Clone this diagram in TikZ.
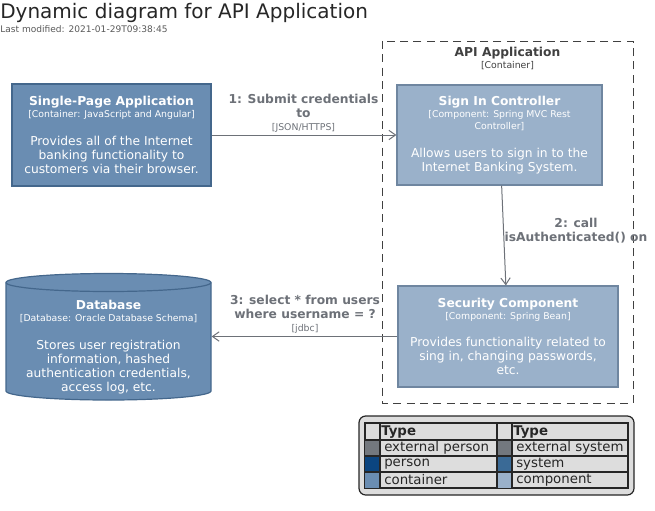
\documentclass[tikz,border=0pt]{standalone}
\usepackage{fontspec}
\setmainfont{DejaVu Sans}
\usetikzlibrary{arrows.meta, positioning}
\definecolor{containerfill}{HTML}{6A8DB2}
\definecolor{containerline}{HTML}{44678C}
\definecolor{componentfill}{HTML}{9AB1CA}
\definecolor{componentline}{HTML}{6F86A0}
\definecolor{extgray}{HTML}{73787E}
\definecolor{personblue}{HTML}{0B4580}
\definecolor{systemblue}{HTML}{3A6A96}
\definecolor{relgray}{HTML}{6D7178}
\definecolor{legendbg}{HTML}{DDDDDD}
\newcommand{\techtxt}[1]{{\fontsize{7}{8.6}\selectfont\mdseries #1}}

\begin{document}
\begin{tikzpicture}[x=0.75pt, y=-0.75pt,
    box/.style={draw, line width=0.9pt, align=center, text=white, inner sep=0pt,
        font=\fontsize{9.2}{10.5}\selectfont},
    container/.style={box, fill=containerfill, draw=containerline},
    component/.style={box, fill=componentfill, draw=componentline},
    rel/.style={draw=relgray, line width=0.75pt, -{Straight Barb[length=5pt, width=7pt]}},
    rellabel/.style={text=relgray, align=center, inner sep=0pt,
        font=\fontsize{9.2}{10.5}\selectfont\bfseries},
    legendtxt/.style={anchor=west, inner sep=0pt, text=black!85,
        font=\fontsize{10}{12}\selectfont}]
\useasboundingbox (0,0) rectangle (655,510);

% title
\node[anchor=west, inner sep=0pt, text=black!85, font=\fontsize{15}{18}\selectfont] (title) at (0,13) {Dynamic diagram for API Application};
\node[anchor=west, inner sep=0pt, text=black!65, font=\fontsize{6.8}{8}\selectfont] (modified) at (0,29) {Last modified: 2021-01-29T09:38:45};

% API Application boundary
\draw[black!75, dashed, dash pattern=on 6pt off 4pt, line width=0.7pt] (382,41) rectangle (633,403);
\node[align=center, inner sep=0pt, text=black!75, font=\fontsize{9.2}{10.5}\selectfont\bfseries] (api) at (507.5,58) {API Application\\[-1.5pt] \techtxt{[Container]}};

% containers and components
\node[container, minimum width=149.25pt, minimum height=76.5pt] (spa) at (111.5,135)
    {{\bfseries Single-Page Application}\\[-1.5pt] \techtxt{[Container: JavaScript and Angular]}\\[10pt]
     Provides all of the Internet\\ banking functionality to\\ customers via their browser.};
\node[component, minimum width=153.75pt, minimum height=75pt] (signin) at (499.5,135)
    {{\bfseries Sign In Controller}\\[-1.5pt] \techtxt{[Component: Spring MVC Rest}\\[-1.3pt] \techtxt{Controller]}\\[10pt]
     Allows users to sign in to the\\ Internet Banking System.};
\node[component, minimum width=165pt, minimum height=75.75pt] (security) at (508,336.5)
    {{\bfseries Security Component}\\[-1.5pt] \techtxt{[Component: Spring Bean]}\\[10pt]
     Provides functionality related to\\ sing in, changing passwords,\\ etc.};

% Database (cylinder)
\path[fill=containerfill, draw=containerline, line width=0.9pt] (6,282.5) -- (6,391)
    arc[start angle=180, end angle=360, x radius=76.875pt, y radius=6.75pt] -- (211,282.5)
    arc[start angle=0, end angle=180, x radius=76.875pt, y radius=6.75pt] -- cycle;
\draw[containerline, line width=0.9pt] (6,282.5)
    arc[start angle=180, end angle=360, x radius=76.875pt, y radius=6.75pt];
\node[box, draw=none, minimum width=153.75pt] (db) at (108.5,347)
    {{\bfseries Database}\\[-1.5pt] \techtxt{[Database: Oracle Database Schema]}\\[10pt]
     Stores user registration\\ information, hashed\\ authentication credentials,\\ access log, etc.};

% relations
\draw[rel] (spa) -- (signin);
\node[rellabel] (r1) at (303.5,113) {1: Submit credentials\\ to\\[-1pt] \techtxt{[JSON/HTTPS]}};
\draw[rel] (signin) -- (security);
\node[rellabel] (r2) at (576,231) {2: call\\ isAuthenticated() on};
\draw[rel] (security.west) -- (security.west -| db.east);
\node[rellabel] (r3) at (305,314) {3: select * from users\\ where username = ?\\[-1pt] \techtxt{[jdbc]}};

% legend
\draw[black!85, fill=legendbg, rounded corners=5pt, line width=0.9pt] (359,416) rectangle (634,495);
\draw[black!85, line width=0.8pt] (365,423) rectangle (628,488);
\node[legendtxt, font=\fontsize{10}{12}\selectfont\bfseries] (type1) at (381,432) {Type};
\node[legendtxt, font=\fontsize{10}{12}\selectfont\bfseries] (type2) at (513,432) {Type};
\foreach \i/\lc/\ln/\rc/\rn in {0/extgray/external person/extgray/external system,
    1/personblue/person/systemblue/system,
    2/containerfill/container/componentfill/component} {
  \fill[\lc] (365,440+16*\i) rectangle (380,456+16*\i);
  \fill[\rc] (497,440+16*\i) rectangle (512,456+16*\i);
  \node[legendtxt] (ll\i) at (384,448+16*\i) {\ln};
  \node[legendtxt] (lr\i) at (516,448+16*\i) {\rn};
}
\foreach \y in {440,456,472} {
  \draw[black!85, line width=0.8pt] (365,\y) -- (628,\y);
}
\foreach \x in {380,497,512} {
  \draw[black!85, line width=0.8pt] (\x,423) -- (\x,488);
}
\end{tikzpicture}
\end{document}
